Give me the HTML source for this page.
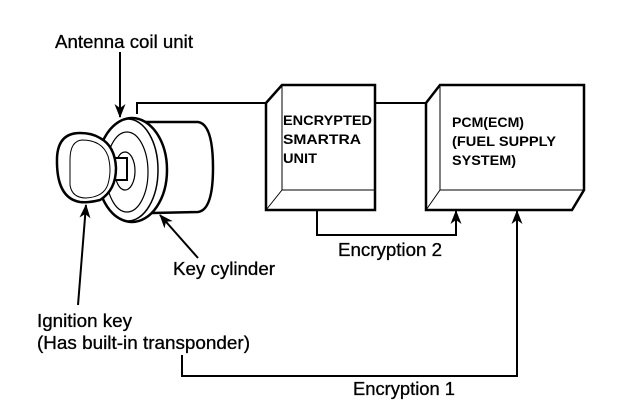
<!DOCTYPE html>
<html><head><meta charset="utf-8"><style>
html,body{margin:0;padding:0;background:#fff;}
svg{display:block;}
text{font-family:"Liberation Sans",Arial,sans-serif;fill:#000;}
.b{font-weight:bold;font-size:13.5px;}
.l{font-size:18px;stroke:#000;stroke-width:0.3;}
</style></head><body>
<svg width="640" height="420" viewBox="0 0 640 420" xmlns="http://www.w3.org/2000/svg">
<defs><marker id="ah" markerWidth="14" markerHeight="12" refX="13" refY="6" orient="auto" markerUnits="userSpaceOnUse"><path d="M0,0.5 L14,6 L0,11.5 L4,6 Z" fill="#000"/></marker></defs>
<g fill="none" stroke="#000">
<!-- cylinder body -->
<path d="M145,122 L198,122 Q213,124 213,168 Q213,210 198,212 L152,213" stroke-width="2.5" fill="#fff"/>
<!-- face -->
<ellipse cx="132" cy="170" rx="35" ry="52" stroke-width="2.5" fill="#fff"/>
<ellipse cx="128" cy="170" rx="30" ry="51" stroke-width="1.5"/>
<ellipse cx="127" cy="172" rx="21" ry="40" stroke-width="1.2"/>
<ellipse cx="125" cy="171" rx="10" ry="19" stroke-width="1.2"/>
<rect x="114" y="158" width="13" height="22" stroke-width="2" fill="#fff"/>
<!-- key -->
<path d="M80,133 Q58,133 57,158 Q56,198 80,202 Q88,203 100,200 Q116,190 116,168 Q115,146 100,138 Q92,133 80,133 Z" stroke-width="2.5" fill="#fff"/>
<path d="M82,140 Q70,141 70,160 L70,185 Q72,198 86,198 Q104,197 108,184 Q112,170 108,156 Q102,140 82,140 Z" stroke-width="1"/>
<!-- connectors -->
<path d="M137,114 L137,103 L282,103" stroke-width="2"/>
<path d="M375,103 L440,103" stroke-width="2"/>
<!-- box 1 -->
<path d="M266,103 L282,85 L375,85 L375,210 L266,210 Z" stroke-width="2.5" fill="#fff"/>
<path d="M282,85 L282,190 L375,190 M282,190 L266,210" stroke-width="1"/>
<!-- box 2 -->
<path d="M426,103 L440,85 L584,85 L584,190 L572,210 L426,210 Z" stroke-width="2.5" fill="#fff"/>
<path d="M440,85 L440,190 L584,190 M440,190 L426,210" stroke-width="1"/>
<!-- encryption lines -->
<path d="M317,210 L317,235 L456,235 L456,211" stroke-width="2" marker-end="url(#ah)"/>
<path d="M182,355 L182,376 L517,376 L517,211" stroke-width="2" marker-end="url(#ah)"/>
<!-- label arrows -->
<path d="M120,52 L120,117" stroke-width="2" marker-end="url(#ah)"/>
<path d="M198,258 L160,215" stroke-width="2" marker-end="url(#ah)"/>
<path d="M78,305 L86,205" stroke-width="2" marker-end="url(#ah)"/>
</g>
<text class="l" x="55" y="48" textLength="138" lengthAdjust="spacingAndGlyphs">Antenna coil unit</text>
<text class="l" x="173" y="275" textLength="102" lengthAdjust="spacingAndGlyphs">Key cylinder</text>
<text class="l" x="37" y="327" textLength="95" lengthAdjust="spacingAndGlyphs">Ignition key</text>
<text class="l" x="37" y="349" textLength="213" lengthAdjust="spacingAndGlyphs">(Has built-in transponder)</text>
<text class="l" x="338" y="256" textLength="104" lengthAdjust="spacingAndGlyphs">Encryption 2</text>
<text class="l" x="353" y="395" textLength="102" lengthAdjust="spacingAndGlyphs">Encryption 1</text>
<text class="b" x="283" y="125" textLength="89" lengthAdjust="spacingAndGlyphs">ENCRYPTED</text>
<text class="b" x="283" y="144" textLength="78" lengthAdjust="spacingAndGlyphs">SMARTRA</text>
<text class="b" x="283" y="163" textLength="34" lengthAdjust="spacingAndGlyphs">UNIT</text>
<text class="b" x="452" y="127" textLength="72" lengthAdjust="spacingAndGlyphs">PCM(ECM)</text>
<text class="b" x="452" y="146" textLength="104" lengthAdjust="spacingAndGlyphs">(FUEL SUPPLY</text>
<text class="b" x="452" y="165" textLength="64" lengthAdjust="spacingAndGlyphs">SYSTEM)</text>
</svg>
</body></html>
